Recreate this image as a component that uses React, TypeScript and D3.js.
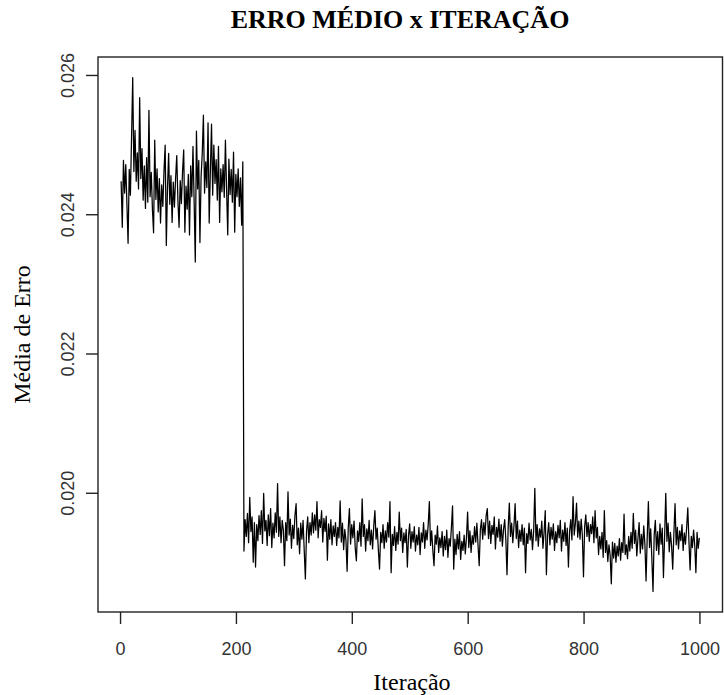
import * as d3 from 'd3'

// iterações 1, 3, 5, ... (uma leitura a cada 2 iterações)
const primeiraIteracao = 1
const passoIteracao = 2

// fase 1: iterações 1..211
const erroFase1 = [
  0.02448, 0.02382, 0.02478, 0.02431, 0.02472, 0.02415, 0.02359, 0.02465, 0.02428, 0.02512,
  0.02597, 0.02462, 0.02521, 0.02448, 0.02489, 0.02437, 0.02568, 0.02452, 0.02495, 0.02421,
  0.0247, 0.02409, 0.02482, 0.02418, 0.0255, 0.02426, 0.02461, 0.02408, 0.02374, 0.02507,
  0.02422, 0.02466, 0.02404, 0.02452, 0.02388, 0.02443, 0.02412, 0.02463, 0.025, 0.02356,
  0.02438, 0.02488, 0.02415, 0.02456, 0.02389, 0.02447, 0.02411, 0.02452, 0.02485, 0.0242,
  0.02382, 0.02449, 0.02416, 0.02462, 0.02493, 0.02375, 0.02441, 0.02408, 0.02458, 0.02371,
  0.0247, 0.02426, 0.02498, 0.02419, 0.02332, 0.0252, 0.02437, 0.02478, 0.0236, 0.02455,
  0.02488, 0.02543, 0.02431, 0.02476, 0.02439, 0.02532, 0.02388, 0.02462, 0.0253, 0.02428,
  0.025, 0.02445, 0.02479, 0.02421, 0.02498, 0.02389, 0.02466, 0.02433, 0.02472, 0.02425,
  0.02507, 0.02437, 0.02371, 0.0248, 0.02429, 0.02465, 0.02418, 0.0249, 0.02375, 0.02458,
  0.02426, 0.02466, 0.02412, 0.02453, 0.02385, 0.02476,
]

// fase 2: iterações 213..999
const erroFase2 = [
  0.01917, 0.01962, 0.01938, 0.01971, 0.01929, 0.01994, 0.01945, 0.01966, 0.01901, 0.01958,
  0.01894, 0.01955, 0.01932, 0.01968, 0.01941, 0.01975, 0.01928, 0.02, 0.01946, 0.01961,
  0.01925, 0.01969, 0.01939, 0.01978, 0.01922, 0.01957, 0.01936, 0.01972, 0.01944, 0.02014,
  0.01938, 0.01966, 0.01929, 0.01961, 0.01947, 0.01896, 0.01958, 0.01932, 0.02002, 0.0194,
  0.01963, 0.01921, 0.01954, 0.01935, 0.01968, 0.01985, 0.01926, 0.0195, 0.01913, 0.01957,
  0.01934, 0.01961, 0.01918, 0.01877, 0.01945, 0.01966, 0.01929, 0.01958, 0.0194, 0.01972,
  0.01943, 0.01969, 0.01947, 0.01988, 0.01936, 0.01962, 0.01951, 0.01975, 0.0193, 0.01964,
  0.01945, 0.01967, 0.01904, 0.01956, 0.01934, 0.01962, 0.01926, 0.01953, 0.01938, 0.01958,
  0.01925, 0.01951, 0.01936, 0.01989, 0.0193, 0.01957, 0.01919, 0.01948, 0.01933, 0.01888,
  0.0195, 0.01978, 0.01927, 0.01955, 0.01936, 0.0196, 0.01922, 0.01903, 0.01946, 0.01931,
  0.01958, 0.01924, 0.01992, 0.01938, 0.01955, 0.01917, 0.01949, 0.01932, 0.01961, 0.01926,
  0.01947, 0.0192, 0.01953, 0.01975, 0.01934, 0.0195, 0.01918, 0.01891, 0.01944, 0.01929,
  0.01955, 0.01921, 0.01946, 0.0193, 0.01958, 0.01937, 0.01988, 0.01886, 0.01941, 0.01925,
  0.01952, 0.01918, 0.01944, 0.01927, 0.01973, 0.01932, 0.0195, 0.01915, 0.01943, 0.01929,
  0.01948, 0.01894, 0.01939, 0.01956, 0.01921, 0.01945, 0.0193, 0.01952, 0.01917, 0.0194,
  0.01926, 0.01951, 0.01912, 0.01943, 0.0193, 0.01958, 0.01921, 0.01947, 0.01933, 0.01955,
  0.01988, 0.01925, 0.01946, 0.01918, 0.01896, 0.0194, 0.01927, 0.01953, 0.01915, 0.01936,
  0.01922, 0.01945, 0.0191, 0.01938, 0.01919, 0.01947, 0.01908, 0.01935, 0.01924, 0.0195,
  0.01982, 0.01891, 0.01934, 0.01912, 0.01941, 0.0192, 0.01945, 0.01905, 0.01931, 0.01918,
  0.0194, 0.01913, 0.01936, 0.01973, 0.01922, 0.01946, 0.01915, 0.01939, 0.01927, 0.01952,
  0.0193, 0.01957, 0.01925, 0.01896, 0.01948, 0.01962, 0.01934, 0.01958, 0.0194, 0.01968,
  0.01978, 0.01935, 0.0196, 0.01928, 0.01954, 0.01941, 0.01966, 0.0192, 0.01951, 0.01937,
  0.01963, 0.01931, 0.01955, 0.01924, 0.01948, 0.01962, 0.01933, 0.01883, 0.0195, 0.01986,
  0.01938, 0.01957, 0.01929, 0.01953, 0.01985, 0.01935, 0.0196, 0.01922, 0.01947, 0.01931,
  0.01955, 0.01926, 0.0195, 0.01886, 0.01942, 0.01928, 0.01957, 0.01933, 0.01948, 0.01919,
  0.01946, 0.02007, 0.01932, 0.01955, 0.01924, 0.01949, 0.01937, 0.0196, 0.01921, 0.01944,
  0.01975, 0.01883, 0.0194, 0.01958, 0.01926, 0.01951, 0.01934, 0.01956, 0.01918, 0.01945,
  0.01929, 0.01954, 0.01936, 0.01961, 0.01917, 0.01947, 0.01931, 0.01958, 0.01925, 0.0195,
  0.01894, 0.01945, 0.01962, 0.01933, 0.01995, 0.0194, 0.01957, 0.01986, 0.01937, 0.0196,
  0.01934, 0.01963, 0.0194, 0.0188, 0.01952, 0.01969, 0.01938, 0.01958, 0.01931, 0.01955,
  0.01942, 0.01966, 0.01929, 0.01975, 0.01936, 0.01951, 0.01912, 0.01938, 0.0192, 0.01944,
  0.01908, 0.01975, 0.01915, 0.01932, 0.01902, 0.01926, 0.01911, 0.0187, 0.0193, 0.01907,
  0.01928, 0.01901, 0.01924, 0.0191, 0.01935, 0.01904, 0.01929, 0.01915, 0.0197, 0.01912,
  0.01926, 0.01906, 0.01938, 0.01917, 0.01944, 0.01921, 0.01971, 0.01928, 0.01947, 0.0191,
  0.01935, 0.01958, 0.01914, 0.01941, 0.0192, 0.01953, 0.01926, 0.01874, 0.01937, 0.01988,
  0.01922, 0.01949, 0.01906, 0.01859, 0.0194, 0.01961, 0.01918, 0.01945, 0.01912, 0.01956,
  0.01927, 0.0195, 0.01879, 0.01938, 0.02, 0.01931, 0.01957, 0.01916, 0.01944, 0.01925,
  0.01891, 0.01942, 0.01985, 0.01926, 0.01951, 0.0192, 0.01946, 0.01932, 0.01955, 0.01918,
  0.01943, 0.01927, 0.0195, 0.01979, 0.01931, 0.0189, 0.01938, 0.01922, 0.01947, 0.01925,
  0.01886, 0.01944, 0.01921, 0.01936,
]

const titulo = 'ERRO MÉDIO x ITERAÇÃO'
const rotuloX = 'Iteração'
const rotuloY = 'Média de Erro'

const width = 724
const height = 695
const left = 98
const right = 722.5
const top = 57
const bottom = 612
const tickLen = 12

export default function App() {
  const erros = [...erroFase1, ...erroFase2]
  const dados = erros.map((e, i) => ({ it: primeiraIteracao + i * passoIteracao, e }))

  // como o R: faixa dos dados + 4% de cada lado
  const [x0, x1] = d3.extent(dados, (d) => d.it) as [number, number]
  const [y0, y1] = d3.extent(dados, (d) => d.e) as [number, number]
  const px = (x1 - x0) * 0.04
  const py = (y1 - y0) * 0.04

  const x = d3.scaleLinear().domain([x0 - px, x1 + px]).range([left, right])
  const y = d3.scaleLinear().domain([y0 - py, y1 + py]).range([bottom, top])

  const linha = d3
    .line<{ it: number; e: number }>()
    .x((d) => x(d.it))
    .y((d) => y(d.e))

  const xTicks = x.ticks(5)
  const yTicks = y.ticks(4)
  const fmt = d3.format('.3f')

  const serif = '"Liberation Serif", "Times New Roman", serif'
  const sans = '"Liberation Sans", Arial, sans-serif'

  return (
    <svg
      width={width}
      height={height}
      style={{ position: 'absolute', left: 0, top: 0, background: '#fff' }}
    >
      <text
        x={400}
        y={28}
        textAnchor="middle"
        fontFamily={serif}
        fontWeight="bold"
        fontSize={26}
        fill="#000"
      >
        {titulo}
      </text>

      <path d={linha(dados) ?? ''} fill="none" stroke="#000" strokeWidth={1.25} strokeLinejoin="round" />

      <rect
        x={left}
        y={top}
        width={right - left}
        height={bottom - top}
        fill="none"
        stroke="#222"
        strokeWidth={1.4}
      />

      {/* eixo x */}
      {xTicks.map((t) => (
        <g key={'x' + t}>
          <line x1={x(t)} x2={x(t)} y1={bottom} y2={bottom + tickLen} stroke="#222" strokeWidth={1.4} />
          <text x={x(t)} y={655} textAnchor="middle" fontFamily={sans} fontSize={18} fill="#333">
            {t}
          </text>
        </g>
      ))}

      {/* eixo y */}
      {yTicks.map((t) => (
        <g key={'y' + t}>
          <line x1={left - tickLen} x2={left} y1={y(t)} y2={y(t)} stroke="#222" strokeWidth={1.4} />
          <text
            transform={`translate(68,${y(t)}) rotate(-90)`}
            dy="0.36em"
            textAnchor="middle"
            fontFamily={sans}
            fontSize={18}
            fill="#333"
          >
            {fmt(t)}
          </text>
        </g>
      ))}

      <text x={412} y={690} textAnchor="middle" fontFamily={serif} fontSize={24} fill="#000">
        {rotuloX}
      </text>
      <text
        transform={`translate(30,${(top + bottom) / 2}) rotate(-90)`}
        textAnchor="middle"
        fontFamily={serif}
        fontSize={24}
        fill="#000"
      >
        {rotuloY}
      </text>
    </svg>
  )
}
